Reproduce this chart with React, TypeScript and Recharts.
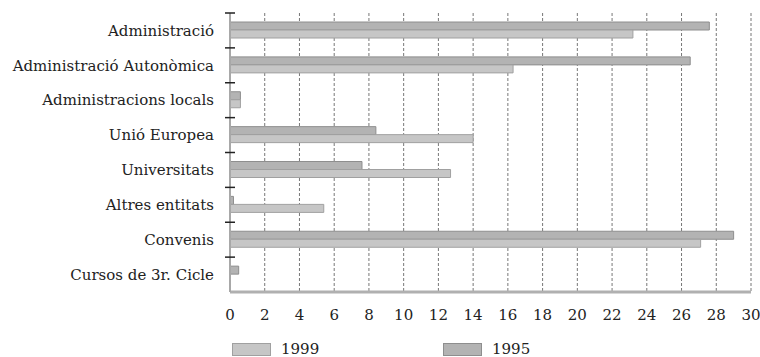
import React from 'react';
import { BarChart, Bar, XAxis, YAxis, CartesianGrid, Legend } from 'recharts';

const categories = [
  'Administració',
  'Administració Autonòmica',
  'Administracions locals',
  'Unió Europea',
  'Universitats',
  'Altres entitats',
  'Convenis',
  'Cursos de 3r. Cicle',
];
const values1995 = [27.6, 26.5, 0.6, 8.4, 7.6, 0.2, 29.0, 0.5];
const values1999 = [23.2, 16.3, 0.6, 14.0, 12.7, 5.4, 27.1, 0];
const xTicks = [0, 2, 4, 6, 8, 10, 12, 14, 16, 18, 20, 22, 24, 26, 28, 30];
const legendOrder = ['1999', '1995'];

const data = categories.map((name, i) => ({ name, y1995: values1995[i], y1999: values1999[i] }));

const W = 760;
const H = 357;
const MARGIN = { top: 13, right: 9, bottom: 0, left: 0 };
const YAXIS_W = 230;
const XAXIS_H = 65;
const PLOT_H = H - MARGIN.top - MARGIN.bottom - XAXIS_H;
const BAND = PLOT_H / categories.length;
const AXIS_X = MARGIN.left + YAXIS_W;
const FONT = 'DejaVu Serif';

const COLORS: Record<string, { fill: string; stroke: string }> = {
  '1995': { fill: '#b3b3b3', stroke: '#8e8e8e' },
  '1999': { fill: '#c6c6c6', stroke: '#a0a0a0' },
};

const YTick = (props: any) => {
  const { y, payload } = props;
  const top = y - BAND / 2;
  return (
    <g>
      <line x1={AXIS_X - 5} x2={AXIS_X + 5} y1={top} y2={top} stroke="#222" strokeWidth={1.5} />
      <text
        x={AXIS_X - 16}
        y={y}
        dy="0.35em"
        textAnchor="end"
        fontFamily={FONT}
        fontSize={15}
        fill="#222"
      >
        {payload.value}
      </text>
    </g>
  );
};

const LegendContent = () => {
  const lefts = [232, 443];
  return (
    <div style={{ position: 'relative', width: W, height: 16 }}>
      {legendOrder.map((k, i) => (
        <div
          key={k}
          style={{ position: 'absolute', left: lefts[i], top: 0, display: 'flex', alignItems: 'center' }}
        >
          <div
            style={{
              width: 39,
              height: 13,
              background: COLORS[k].fill,
              border: `1px solid ${COLORS[k].stroke}`,
              boxSizing: 'border-box',
            }}
          />
          <span style={{ marginLeft: 10, fontFamily: FONT, fontSize: 15, color: '#222', lineHeight: '16px' }}>
            {k}
          </span>
        </div>
      ))}
    </div>
  );
};

export default function App() {
  return (
    <div style={{ position: 'absolute', left: 0, top: 0, width: W, height: H, background: '#fff' }}>
      <BarChart
        width={W}
        height={H}
        data={data}
        layout="vertical"
        margin={MARGIN}
        barSize={8}
        barGap={0}
      >
        <CartesianGrid vertical horizontal={false} stroke="#777" strokeDasharray="3 2" />
        <XAxis
          type="number"
          domain={[0, 30]}
          ticks={xTicks}
          interval={0}
          height={XAXIS_H}
          tickLine={false}
          tickMargin={11}
          axisLine={{ stroke: '#b0b0b0', strokeWidth: 3 }}
          tick={{ fontFamily: FONT, fontSize: 15, fill: '#222' }}
        />
        <YAxis
          type="category"
          dataKey="name"
          width={YAXIS_W}
          interval={0}
          tickLine={false}
          axisLine={{ stroke: '#a8a8a8', strokeWidth: 2 }}
          tick={<YTick />}
        />
        <Bar dataKey="y1995" name="1995" fill={COLORS['1995'].fill} stroke={COLORS['1995'].stroke} strokeWidth={1} isAnimationActive={false} />
        <Bar dataKey="y1999" name="1999" fill={COLORS['1999'].fill} stroke={COLORS['1999'].stroke} strokeWidth={1} isAnimationActive={false} />
        <Legend
          layout="horizontal"
          verticalAlign="middle"
          content={<LegendContent />}
          wrapperStyle={{ top: 341, left: 0, width: W, height: 16 }}
        />
      </BarChart>
    </div>
  );
}
